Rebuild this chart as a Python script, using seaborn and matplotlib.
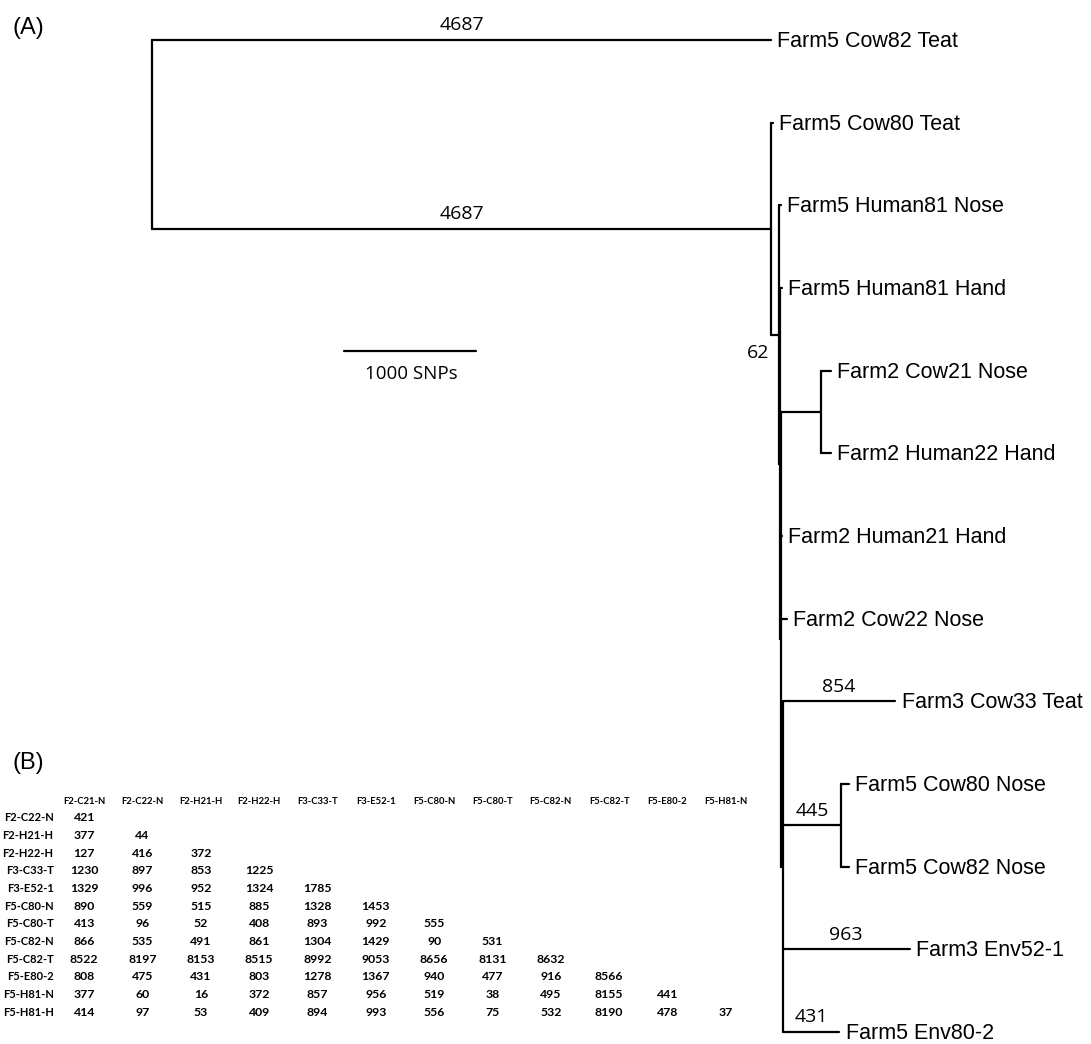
import numpy as np
import pandas as pd
import seaborn as sns
import matplotlib.pyplot as plt
from matplotlib.colors import ListedColormap

sns.set_style('white')
plt.rcParams['font.family'] = ['Liberation Sans', 'DejaVu Sans']
plt.rcParams['text.color'] = 'black'
plt.rcParams['xtick.color'] = 'black'
plt.rcParams['ytick.color'] = 'black'

# === (A) tree: leaves top to bottom, edges as parent -> child with length in SNPs ===
leaf_names = ['Farm5 Cow82 Teat', 'Farm5 Cow80 Teat', 'Farm5 Human81 Nose',
              'Farm5 Human81 Hand', 'Farm2 Cow21 Nose', 'Farm2 Human22 Hand',
              'Farm2 Human21 Hand', 'Farm2 Cow22 Nose', 'Farm3 Cow33 Teat',
              'Farm5 Cow80 Nose', 'Farm5 Cow82 Nose', 'Farm3 Env52-1', 'Farm5 Env80-2']

edge_parent = ['root', 'root', 'A', 'A', 'B', 'B', 'C', 'C', 'D', 'F2', 'F2',
               'D', 'D', 'D', 'E', 'E', 'N5', 'N5', 'E', 'E']
edge_child = ['Farm5 Cow82 Teat', 'A', 'Farm5 Cow80 Teat', 'B', 'Farm5 Human81 Nose', 'C',
              'Farm5 Human81 Hand', 'D', 'F2', 'Farm2 Cow21 Nose', 'Farm2 Human22 Hand',
              'Farm2 Human21 Hand', 'Farm2 Cow22 Nose', 'E', 'Farm3 Cow33 Teat', 'N5',
              'Farm5 Cow80 Nose', 'Farm5 Cow82 Nose', 'Farm3 Env52-1', 'Farm5 Env80-2']
edge_len = [4687, 4687, 15, 62, 10, 8, 10, 8, 300, 75, 75, 5, 40, 8, 854, 445, 60, 60, 963, 431]
edge_label = ['4687', '4687', '', '62', '', '', '', '', '', '', '', '', '', '', '854', '445',
              '', '', '963', '431']

scale_len = 1000

# === (B) pairwise SNP table ===
col_names = ['F2-C21-N', 'F2-C22-N', 'F2-H21-H', 'F2-H22-H', 'F3-C33-T', 'F3-E52-1',
             'F5-C80-N', 'F5-C80-T', 'F5-C82-N', 'F5-C82-T', 'F5-E80-2', 'F5-H81-N']
row_names = ['F2-C22-N', 'F2-H21-H', 'F2-H22-H', 'F3-C33-T', 'F3-E52-1', 'F5-C80-N',
             'F5-C80-T', 'F5-C82-N', 'F5-C82-T', 'F5-E80-2', 'F5-H81-N', 'F5-H81-H']
snp_rows = [
    [421],
    [377, 44],
    [127, 416, 372],
    [1230, 897, 853, 1225],
    [1329, 996, 952, 1324, 1785],
    [890, 559, 515, 885, 1328, 1453],
    [413, 96, 52, 408, 893, 992, 555],
    [866, 535, 491, 861, 1304, 1429, 90, 531],
    [8522, 8197, 8153, 8515, 8992, 9053, 8656, 8131, 8632],
    [808, 475, 431, 803, 1278, 1367, 940, 477, 916, 8566],
    [377, 60, 16, 372, 857, 956, 519, 38, 495, 8155, 441],
    [414, 97, 53, 409, 894, 993, 556, 75, 532, 8190, 478, 37],
]

W, H = 1091, 1044
fig = plt.figure(figsize=(W / 100, H / 100), dpi=100)

# --- tree layout ---
xpos = {'root': 0}
for p, c, l in zip(edge_parent, edge_child, edge_len):
    xpos[c] = xpos[p] + l

children = {}
for p, c in zip(edge_parent, edge_child):
    children.setdefault(p, []).append(c)

ypos = {n: i for i, n in enumerate(leaf_names)}

def node_y(n):
    if n not in children:
        return ypos[n]
    ys = [node_y(c) for c in children[n]]
    ypos[n] = (min(ys) + max(ys)) / 2
    return ypos[n]

node_y('root')

segs = []
k = 0
for p, c in zip(edge_parent, edge_child):
    segs += [(k, xpos[p], ypos[c]), (k, xpos[c], ypos[c])]
    k += 1
for n, ch in children.items():
    ys = [ypos[c] for c in ch]
    segs += [(k, xpos[n], min(ys)), (k, xpos[n], max(ys))]
    k += 1
seg_df = pd.DataFrame(segs, columns=['seg', 'x', 'y'])

ax = fig.add_axes([0, 0, 1, 1])
px_per_snp = 0.1321
root_px, row0_px, row_px = 152, 40, 82.67
ax.set_xlim(-root_px / px_per_snp, (W - root_px) / px_per_snp)
ax.set_ylim((H - row0_px) / row_px, -row0_px / row_px)

sns.lineplot(data=seg_df, x='x', y='y', units='seg', estimator=None, sort=False,
             color='black', lw=1.6, ax=ax, legend=False)

for n in leaf_names:
    ax.annotate(n, (xpos[n], ypos[n]), xytext=(4.5, -1), textcoords='offset points',
                va='center', ha='left', fontsize=15.5)

for p, c, lab in zip(edge_parent, edge_child, edge_label):
    if not lab:
        continue
    if xpos[c] - xpos[p] < 100:
        ax.annotate(lab, (xpos[p], ypos[c]), xytext=(-1, -7), textcoords='offset points',
                    va='top', ha='right', fontsize=14, family='Open Sans')
    else:
        ax.annotate(lab, ((xpos[p] + xpos[c]) / 2, ypos[c]), xytext=(0, 7),
                    textcoords='offset points', va='baseline', ha='center',
                    fontsize=14, family='Open Sans')

# scale bar
bar_x0, bar_y = 1450, 3.76
ax.plot([bar_x0, bar_x0 + scale_len], [bar_y, bar_y], color='black', lw=1.6)
ax.annotate(f'{scale_len} SNPs', (bar_x0 + scale_len / 2, bar_y), xytext=(1, -17),
            textcoords='offset points', va='center', ha='center', fontsize=13.5,
            family='Open Sans')
ax.axis('off')

fig.text(13 / W, 1 - 28 / H, '(A)', fontsize=17, va='center', ha='left')
fig.text(13 / W, 1 - 763 / H, '(B)', fontsize=17, va='center', ha='left')

# --- table as a white heatmap with annotations ---
mat = np.full((len(row_names), len(col_names)), np.nan)
for i, r in enumerate(snp_rows):
    mat[i, :len(r)] = r
tab = pd.DataFrame(mat, index=row_names, columns=col_names)

hax = fig.add_axes([55 / W, 1 - 1021 / H, 700 / W, 212 / H])
sns.heatmap(tab, ax=hax, cmap=ListedColormap(['white']), cbar=False, annot=True, fmt='.0f',
            mask=tab.isna(),
            annot_kws=dict(fontsize=8.8, fontweight='bold', family='Lato', color='black'))
hax.xaxis.tick_top()
hax.set_xticklabels(col_names, rotation=0, fontsize=6.8, fontweight='bold', family='Lato')
hax.set_yticklabels(row_names, rotation=0, fontsize=8, fontweight='bold', family='Lato')
hax.tick_params(axis='x', length=0, pad=2)
hax.tick_params(axis='y', length=0, pad=1)
hax.set_xlabel('')
hax.set_ylabel('')

fig.savefig('out.png', dpi=100)
